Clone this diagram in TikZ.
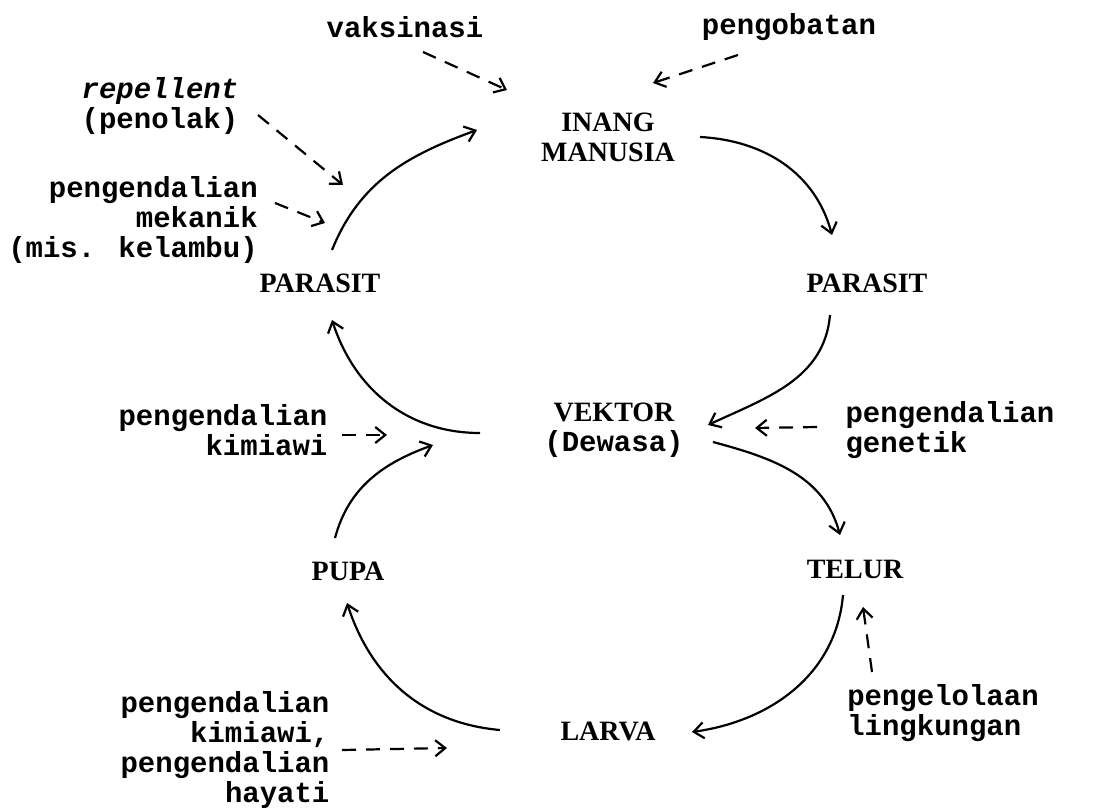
\documentclass[tikz,border=0pt]{standalone}
\usepackage{fontspec}
\setmainfont{Liberation Serif}
\newfontfamily\monof{Liberation Mono}
\usetikzlibrary{arrows.meta}
\tikzset{
  lbl/.style={font=\monof\bfseries\fontsize{14.5}{15}\selectfont, inner sep=0pt, align=#1},
  lbl/.default=center,
  stage/.style={font=\bfseries\fontsize{14}{15}\selectfont, inner sep=0pt, align=center},
  flow/.style={-{Straight Barb[length=5pt,width=8pt]}, line width=1.1pt},
  ctrl/.style={flow, dash pattern=on 7pt off 5pt}
}
\begin{document}
\begin{tikzpicture}[x=0.5pt,y=-0.5pt]
\useasboundingbox (0,0) rectangle (1114,808);
% stages
\node[stage] (inang) at (608,137) {INANG\\MANUSIA};
\node[stage] (parL) at (320,283) {PARASIT};
\node[stage] (parR) at (867,283) {PARASIT};
\node[stage] (vek) at (614,430) {VEKTOR\\{\monof\fontsize{14.5}{15}\selectfont (Dewasa)}};
\node[stage] (telur) at (855,569) {TELUR};
\node[stage] (pupa) at (348,571) {PUPA};
\node[stage] (larva) at (608,731) {LARVA};
% control labels
\node[lbl] (vaks) at (405,27) {vaksinasi};
\node[lbl] (pengob) at (789,27) {pengobatan};
\node[lbl=right] (repel) at (160,106) {\itshape repellent\\(penolak)};
\node[lbl=right] (mek) at (133,220) {pengendalian\\mekanik\\(mis. kelambu)};
\node[lbl=right] (kim) at (223,430) {pengendalian\\kimiawi};
\node[lbl=left] (gen) at (950,430) {pengendalian\\genetik};
\node[lbl=left] (pengel) at (943,713) {pengelolaan\\lingkungan};
\node[lbl=right] (hay) at (225,750) {pengendalian\\kimiawi,\\pengendalian\\hayati};
% cycle
\draw[flow] ([shift={(12,-33)}]parL.center) to[out=68,in=200] ([shift={(-131,-7)}]inang.center);
\draw[flow] ([shift={(92,0)}]inang.center) to[out=-3,in=105] ([shift={(-35,-48)}]parR.center);
\draw[flow] ([shift={(-37,32)}]parR.center) to[out=-95,in=25] ([shift={(94,-5)}]vek.center);
\draw[flow] ([shift={(99,12)}]vek.center) to[out=-15,in=105] ([shift={(-15,-34)}]telur.center);
\draw[flow] ([shift={(-12,26)}]telur.center) to[out=-95,in=8] ([shift={(84,1)}]larva.center);
\draw[flow] ([shift={(-108,-1)}]larva.center) to[out=175,in=-72] ([shift={(-1,32)}]pupa.center);
\draw[flow] ([shift={(-13,-33)}]pupa.center) to[out=75,in=200] ([shift={(-181,15)}]vek.center);
\draw[flow] ([shift={(-134,3)}]vek.center) to[out=180,in=-72] ([shift={(12,37)}]parL.center);
% controls
\draw[ctrl] ([shift={(18,25)}]vaks.center) -- ([shift={(-101,-47)}]inang.center);
\draw[ctrl] ([shift={(-51,28)}]pengob.center) -- ([shift={(45,-54)}]inang.center);
\draw[ctrl] ([shift={(98,9)}]repel.center) -- ([shift={(23,-98)}]parL.center);
\draw[ctrl] ([shift={(142,-17)}]mek.center) -- ([shift={(5,-60)}]parL.center);
\draw[ctrl] ([shift={(119,5)}]kim.center) -- ([shift={(-227,5)}]vek.center);
\draw[ctrl] ([shift={(-133,-3)}]gen.center) -- ([shift={(141,-2)}]vek.center);
\draw[ctrl] ([shift={(-71,-41)}]pengel.center) -- ([shift={(8,38)}]telur.center);
\draw[ctrl] ([shift={(117,0)}]hay.center) -- ([shift={(-161,17)}]larva.center);
\end{tikzpicture}
\end{document}
